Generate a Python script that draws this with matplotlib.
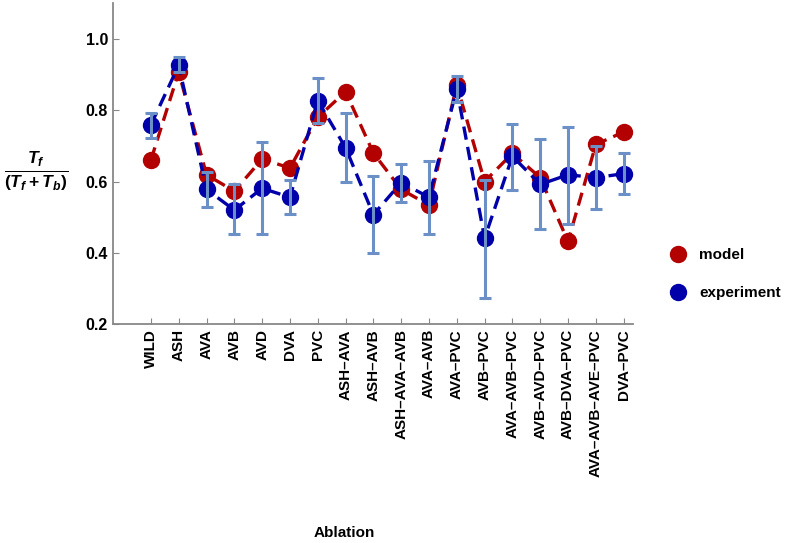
import numpy as np
import matplotlib
matplotlib.use('Agg')
import matplotlib.pyplot as plt
from matplotlib.lines import Line2D

plt.rcParams['font.family'] = 'Liberation Sans'
plt.rcParams['font.weight'] = 'bold'
plt.rcParams['mathtext.fontset'] = 'custom'
plt.rcParams['mathtext.it'] = 'Liberation Sans:italic:bold'
plt.rcParams['mathtext.rm'] = 'Liberation Sans:bold'
plt.rcParams['mathtext.bf'] = 'Liberation Sans:bold'

ablations = ['WILD', 'ASH', 'AVA', 'AVB', 'AVD', 'DVA', 'PVC', 'ASH\u2013AVA', 'ASH\u2013AVB',
             'ASH\u2013AVA\u2013AVB', 'AVA\u2013AVB', 'AVA\u2013PVC', 'AVB\u2013PVC',
             'AVA\u2013AVB\u2013PVC', 'AVB\u2013AVD\u2013PVC', 'AVB\u2013DVA\u2013PVC',
             'AVA\u2013AVB\u2013AVE\u2013PVC', 'DVA\u2013PVC']

model = [0.66, 0.907, 0.619, 0.573, 0.663, 0.638, 0.78, 0.852, 0.68,
         0.578, 0.534, 0.871, 0.60, 0.679, 0.611, 0.432, 0.704, 0.739]

experiment = [0.759, 0.926, 0.578, 0.52, 0.581, 0.556, 0.827, 0.695, 0.507,
              0.597, 0.556, 0.86, 0.441, 0.671, 0.592, 0.619, 0.611, 0.622]

err_hi = [0.792, 0.948, 0.627, 0.592, 0.71, 0.603, 0.89, 0.792, 0.616,
          0.649, 0.658, 0.896, 0.603, 0.762, 0.718, 0.753, 0.701, 0.679]

err_lo = [0.723, 0.907, 0.529, 0.452, 0.452, 0.51, 0.764, 0.60, 0.40,
          0.543, 0.452, 0.822, 0.274, 0.576, 0.466, 0.482, 0.523, 0.564]

red = '#b30000'
blue = '#0000aa'
errc = '#6b8fc7'

x = np.arange(len(ablations))
exp = np.array(experiment)
yerr = [exp - np.array(err_lo), np.array(err_hi) - exp]

fig = plt.figure(figsize=(8, 5.43), dpi=100)
ax = fig.add_axes([0.141, 0.403, 0.65, 0.591])

ax.plot(x, model, '--', color=red, lw=2.4, dashes=(4, 2.2), marker='o', ms=11.5, zorder=2)
ax.plot(x, experiment, '--', color=blue, lw=2.4, dashes=(4, 2.2), marker='o', ms=11.5, zorder=3)
ax.errorbar(x, experiment, yerr=yerr, fmt='none', ecolor=errc, elinewidth=2.2,
            capsize=4.5, capthick=2.2, zorder=4)

ax.set_xlim(-1.37, 17.33)
ax.set_ylim(0.215, 1.10)
ax.set_yticks([0.2, 0.4, 0.6, 0.8, 1.0])
ax.set_yticklabels(['0.2', '0.4', '0.6', '0.8', '1.0'])
ax.set_xticks(x)
ax.set_xticklabels(ablations, rotation=90, fontsize=11, fontweight='bold')
ax.tick_params(axis='y', labelsize=11.5, direction='in', length=4, color='#888888')
ax.tick_params(axis='x', direction='in', length=4, color='#888888')

for s in ['top', 'right']:
    ax.spines[s].set_visible(False)
for s in ['left', 'bottom']:
    ax.spines[s].set_color('#888888')
    ax.spines[s].set_linewidth(1.3)

fig.text(0.045, 0.685, r'$\frac{T_f}{(T_f+T_b)}$', fontsize=18, ha='center', va='center')
fig.text(0.43, 0.006, 'Ablation', fontsize=11, fontweight='bold', ha='center', va='bottom')

handles = [Line2D([], [], ls='none', marker='o', ms=11.5, color=red),
           Line2D([], [], ls='none', marker='o', ms=11.5, color=blue)]
fig.legend(handles, ['model', 'experiment'], loc='center left', bbox_to_anchor=(0.811, 0.495),
           frameon=False, fontsize=11, handletextpad=0.4, labelspacing=1.6)

fig.savefig('out.png', dpi=100)
